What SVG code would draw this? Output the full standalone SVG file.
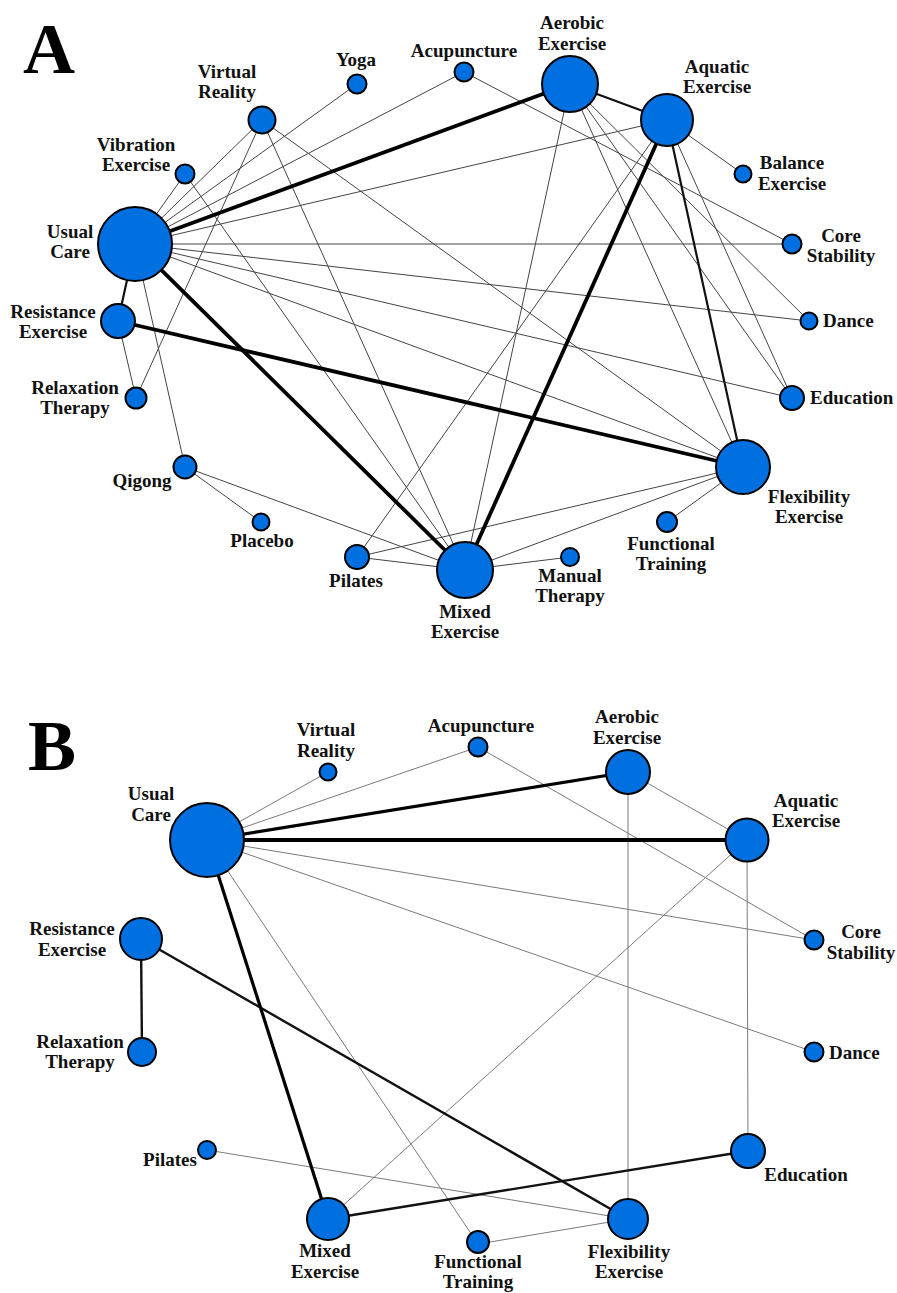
<svg xmlns="http://www.w3.org/2000/svg" width="897" height="1293" viewBox="0 0 897 1293">
<style>
.bg{fill:#fff}
.n{fill:#0070E0;stroke:#000;stroke-width:2}
.t{font-family:"Liberation Serif","Times New Roman",serif;font-weight:bold;font-size:19px;fill:#111;text-anchor:middle}
.l{text-anchor:start}
.big{font-family:"Liberation Serif","Times New Roman",serif;font-weight:bold;font-size:72px;fill:#000}
.e line{stroke:#444;stroke-width:1;fill:none}
.e .m{stroke:#111;stroke-width:2.2}
.e .k{stroke:#000;stroke-width:3.8}
.eb line{stroke:#7a7a7a;stroke-width:1}
.eb .m{stroke:#111;stroke-width:2.4}
.eb .k{stroke:#000;stroke-width:3.2}
.eb .kk{stroke:#000;stroke-width:4.2}
</style>
<rect class="bg" width="897" height="1293"/>
<text class="big" x="23" y="73">A</text>
<text class="big" x="28" y="770">B</text>

<!-- Panel A connectors -->
<g id="edges-A" class="e">
<line x1="135" y1="244" x2="185" y2="174"/>
<line x1="135" y1="244" x2="262" y2="120"/>
<line x1="135" y1="244" x2="357" y2="84"/>
<line x1="135" y1="244" x2="464" y2="72"/>
<line x1="135" y1="244" x2="667" y2="120"/>
<line x1="135" y1="244" x2="792" y2="244"/>
<line x1="135" y1="244" x2="809" y2="321"/>
<line x1="135" y1="244" x2="792" y2="398"/>
<line x1="135" y1="244" x2="743" y2="467"/>
<line x1="135" y1="244" x2="185" y2="467"/>
<line x1="262" y1="120" x2="136" y2="398"/>
<line x1="262" y1="120" x2="465" y2="570"/>
<line x1="262" y1="120" x2="743" y2="467"/>
<line x1="185" y1="174" x2="465" y2="570"/>
<line x1="118" y1="321" x2="136" y2="398"/>
<line x1="464" y1="72" x2="792" y2="244"/>
<line x1="570" y1="84" x2="465" y2="570"/>
<line x1="570" y1="84" x2="743" y2="467"/>
<line x1="570" y1="84" x2="792" y2="398"/>
<line x1="570" y1="84" x2="809" y2="321"/>
<line x1="667" y1="120" x2="357" y2="557"/>
<line x1="667" y1="120" x2="743" y2="174"/>
<line x1="667" y1="120" x2="792" y2="398"/>
<line x1="743" y1="467" x2="357" y2="557"/>
<line x1="743" y1="467" x2="465" y2="570"/>
<line x1="743" y1="467" x2="667" y2="522"/>
<line x1="357" y1="557" x2="465" y2="570"/>
<line x1="465" y1="570" x2="570" y2="557"/>
<line x1="185" y1="467" x2="261" y2="522"/>
<line x1="185" y1="467" x2="465" y2="570"/>
<line class="m" x1="135" y1="244" x2="118" y2="321"/>
<line class="m" x1="570" y1="84" x2="667" y2="120"/>
<line class="m" x1="667" y1="120" x2="743" y2="467"/>
<line class="k" x1="135" y1="244" x2="570" y2="84"/>
<line class="k" x1="135" y1="244" x2="465" y2="570"/>
<line class="k" x1="667" y1="120" x2="465" y2="570"/>
<line class="k" x1="118" y1="321" x2="743" y2="467"/>
</g>

<!-- Panel A nodes -->
<g id="a-usual-care"><circle class="n" cx="135" cy="244" r="37"/><text class="t" x="70" y="238">Usual</text><text class="t" x="70" y="258">Care</text></g>
<g id="a-virtual-reality"><circle class="n" cx="262" cy="120" r="13.5"/><text class="t" x="227" y="78">Virtual</text><text class="t" x="227" y="98">Reality</text></g>
<g id="a-yoga"><circle class="n" cx="357" cy="84" r="9.5"/><text class="t" x="356" y="66">Yoga</text></g>
<g id="a-vibration-exercise"><circle class="n" cx="185" cy="174" r="9.5"/><text class="t" x="136" y="151">Vibration</text><text class="t" x="136" y="171">Exercise</text></g>
<g id="a-acupuncture"><circle class="n" cx="464" cy="72" r="9.5"/><text class="t" x="464" y="57">Acupuncture</text></g>
<g id="a-aerobic-exercise"><circle class="n" cx="570" cy="84" r="28"/><text class="t" x="572" y="29">Aerobic</text><text class="t" x="572" y="50">Exercise</text></g>
<g id="a-aquatic-exercise"><circle class="n" cx="667" cy="120" r="26"/><text class="t" x="717" y="73">Aquatic</text><text class="t" x="717" y="93">Exercise</text></g>
<g id="a-balance-exercise"><circle class="n" cx="743" cy="174" r="8.5"/><text class="t" x="792" y="169">Balance</text><text class="t" x="792" y="190">Exercise</text></g>
<g id="a-core-stability"><circle class="n" cx="792" cy="244" r="9.5"/><text class="t" x="841" y="242">Core</text><text class="t" x="841" y="262">Stability</text></g>
<g id="a-dance"><circle class="n" cx="809" cy="321" r="8.5"/><text class="t l" x="823" y="327">Dance</text></g>
<g id="a-education"><circle class="n" cx="792" cy="398" r="12"/><text class="t l" x="810" y="404">Education</text></g>
<g id="a-flexibility-exercise"><circle class="n" cx="743" cy="467" r="27"/><text class="t" x="809" y="503">Flexibility</text><text class="t" x="809" y="523">Exercise</text></g>
<g id="a-functional-training"><circle class="n" cx="667" cy="522" r="10"/><text class="t" x="671" y="550">Functional</text><text class="t" x="671" y="570">Training</text></g>
<g id="a-manual-therapy"><circle class="n" cx="570" cy="557" r="9"/><text class="t" x="570" y="582">Manual</text><text class="t" x="570" y="602">Therapy</text></g>
<g id="a-mixed-exercise"><circle class="n" cx="465" cy="570" r="28"/><text class="t" x="465" y="618">Mixed</text><text class="t" x="465" y="638">Exercise</text></g>
<g id="a-pilates"><circle class="n" cx="357" cy="557" r="12"/><text class="t" x="356" y="587">Pilates</text></g>
<g id="a-placebo"><circle class="n" cx="261" cy="522" r="8.5"/><text class="t" x="262" y="547">Placebo</text></g>
<g id="a-qigong"><circle class="n" cx="185" cy="467" r="11.5"/><text class="t" x="142" y="487">Qigong</text></g>
<g id="a-relaxation-therapy"><circle class="n" cx="136" cy="398" r="10.5"/><text class="t" x="75" y="394">Relaxation</text><text class="t" x="75" y="414">Therapy</text></g>
<g id="a-resistance-exercise"><circle class="n" cx="118" cy="321" r="17"/><text class="t" x="53" y="318">Resistance</text><text class="t" x="53" y="338">Exercise</text></g>

<!-- Panel B connectors -->
<g id="edges-B" class="eb">
<line x1="207" y1="840" x2="328" y2="772"/>
<line x1="207" y1="840" x2="478" y2="747"/>
<line x1="207" y1="840" x2="814" y2="940"/>
<line x1="207" y1="840" x2="814" y2="1052"/>
<line x1="207" y1="840" x2="478" y2="1244"/>
<line x1="478" y1="747" x2="814" y2="940"/>
<line x1="628" y1="772" x2="747" y2="840"/>
<line x1="628" y1="772" x2="628" y2="1219"/>
<line x1="747" y1="840" x2="748" y2="1151"/>
<line x1="747" y1="840" x2="328" y2="1219"/>
<line x1="207" y1="1150" x2="628" y2="1219"/>
<line x1="478" y1="1244" x2="628" y2="1219"/>
<line class="m" x1="141" y1="939" x2="142" y2="1052"/>
<line class="m" x1="141" y1="939" x2="628" y2="1219"/>
<line class="m" x1="328" y1="1219" x2="748" y2="1151"/>
<line class="k" x1="207" y1="840" x2="628" y2="772"/>
<line class="k" x1="207" y1="840" x2="328" y2="1219"/>
<line class="kk" x1="207" y1="840" x2="747" y2="840"/>
</g>

<!-- Panel B nodes -->
<g id="b-usual-care"><circle class="n" cx="207" cy="840" r="37"/><text class="t" x="151" y="800">Usual</text><text class="t" x="151" y="821">Care</text></g>
<g id="b-virtual-reality"><circle class="n" cx="328" cy="772" r="8.5"/><text class="t" x="326" y="736">Virtual</text><text class="t" x="326" y="757">Reality</text></g>
<g id="b-acupuncture"><circle class="n" cx="478" cy="747" r="9.5"/><text class="t" x="481" y="732">Acupuncture</text></g>
<g id="b-aerobic-exercise"><circle class="n" cx="628" cy="772" r="22"/><text class="t" x="627" y="723">Aerobic</text><text class="t" x="627" y="744">Exercise</text></g>
<g id="b-aquatic-exercise"><circle class="n" cx="747" cy="840" r="21.5"/><text class="t" x="806" y="807">Aquatic</text><text class="t" x="806" y="827">Exercise</text></g>
<g id="b-core-stability"><circle class="n" cx="814" cy="940" r="9.5"/><text class="t" x="861" y="938">Core</text><text class="t" x="861" y="959">Stability</text></g>
<g id="b-dance"><circle class="n" cx="814" cy="1052" r="9.5"/><text class="t l" x="829" y="1059">Dance</text></g>
<g id="b-education"><circle class="n" cx="748" cy="1151" r="17"/><text class="t" x="806" y="1181">Education</text></g>
<g id="b-flexibility-exercise"><circle class="n" cx="628" cy="1219" r="20"/><text class="t" x="629" y="1258">Flexibility</text><text class="t" x="629" y="1278">Exercise</text></g>
<g id="b-functional-training"><circle class="n" cx="478" cy="1242" r="11"/><text class="t" x="478" y="1268">Functional</text><text class="t" x="478" y="1288">Training</text></g>
<g id="b-mixed-exercise"><circle class="n" cx="328" cy="1219" r="21"/><text class="t" x="325" y="1257">Mixed</text><text class="t" x="325" y="1278">Exercise</text></g>
<g id="b-pilates"><circle class="n" cx="207" cy="1150" r="9"/><text class="t" x="170" y="1166">Pilates</text></g>
<g id="b-relaxation-therapy"><circle class="n" cx="142" cy="1052" r="14"/><text class="t" x="80" y="1048">Relaxation</text><text class="t" x="80" y="1068">Therapy</text></g>
<g id="b-resistance-exercise"><circle class="n" cx="141" cy="939" r="21"/><text class="t" x="72" y="935">Resistance</text><text class="t" x="72" y="956">Exercise</text></g>
</svg>
